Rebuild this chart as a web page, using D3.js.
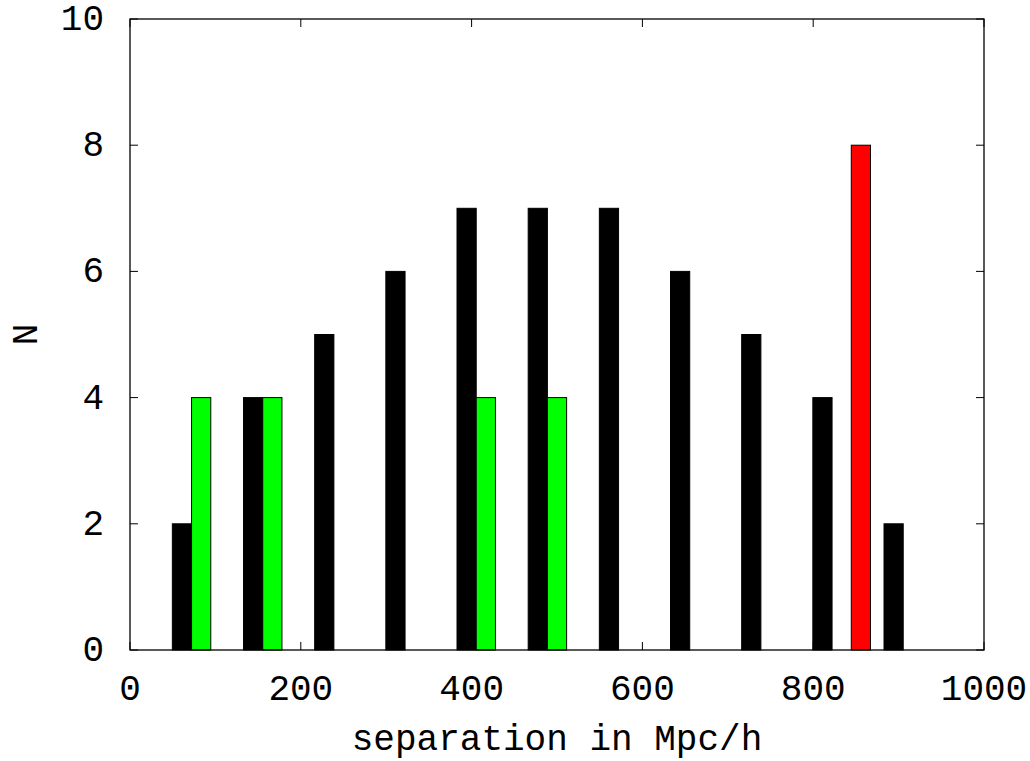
<!DOCTYPE html>
<html>
<head>
<meta charset="utf-8">
<script src="https://cdn.jsdelivr.net/npm/d3@7"></script>
<style>
  body { margin: 0; background: #fff; }
  text { font-family: "Courier New", "Nimbus Mono PS", FreeMono, "Liberation Mono", monospace; }
</style>
</head>
<body>
<svg id="chart" width="1030" height="761"></svg>
<script>
// bin centres (Mpc/h) and counts per series
const binWidth = 1000 / 12
const bins = d3.range(1, 13).map(k => k * binWidth)
const blackCounts = [2, 4, 5, 6, 7, 7, 7, 6, 5, 4, 2, 0]
const greenCounts = [4, 4, 0, 0, 4, 4, 0, 0, 0, 0, 0, 0]
const redCounts   = [0, 0, 0, 0, 0, 0, 0, 0, 0, 8, 0, 0]
const xTicks = [0, 200, 400, 600, 800, 1000]
const yTicks = [0, 2, 4, 6, 8, 10]

const boxWidth = 22.5
const series = [
  {name: "black", values: blackCounts, shift: -boxWidth, fill: "#000000"},
  {name: "green", values: greenCounts, shift: 0, fill: "#00ff00"},
  {name: "red", values: redCounts, shift: boxWidth, fill: "#ff0000"}
]

const svg = d3.select("#chart")
const plotL = 130, plotR = 984, plotT = 19, plotB = 650

const x = d3.scaleLinear().domain([0, 1000]).range([plotL, plotR])
const y = d3.scaleLinear().domain([0, 10]).range([plotB, plotT])

// bars
series.forEach(s => {
  svg.append("g")
    .selectAll("rect")
    .data(s.values.map((v, i) => ({v, c: bins[i] + s.shift})))
    .join("rect")
    .attr("x", d => x(d.c - boxWidth / 2))
    .attr("width", d => x(d.c + boxWidth / 2) - x(d.c - boxWidth / 2))
    .attr("y", d => y(d.v))
    .attr("height", d => y(0) - y(d.v))
    .attr("fill", s.fill)
    .attr("stroke", "#000")
    .attr("stroke-width", 1)
})

// frame
svg.append("rect")
  .attr("x", plotL).attr("y", plotT)
  .attr("width", plotR - plotL).attr("height", plotB - plotT)
  .attr("fill", "none").attr("stroke", "#000").attr("stroke-width", 1.3)

const tickLen = 8

// inward ticks, mirrored
const ax = svg.append("g").attr("stroke", "#000").attr("stroke-width", 1)
xTicks.forEach(t => {
  ax.append("line").attr("x1", x(t)).attr("x2", x(t)).attr("y1", plotB).attr("y2", plotB - tickLen)
  ax.append("line").attr("x1", x(t)).attr("x2", x(t)).attr("y1", plotT).attr("y2", plotT + tickLen)
})
yTicks.forEach(t => {
  ax.append("line").attr("x1", plotL).attr("x2", plotL + tickLen).attr("y1", y(t)).attr("y2", y(t))
  ax.append("line").attr("x1", plotR).attr("x2", plotR - tickLen).attr("y1", y(t)).attr("y2", y(t))
})

const fontSize = 36

svg.append("g").selectAll("text")
  .data(xTicks)
  .join("text")
  .attr("x", d => x(d))
  .attr("y", 700)
  .attr("text-anchor", "middle")
  .style("font-size", fontSize + "px")
  .text(d => d)

svg.append("g").selectAll("text")
  .data(yTicks)
  .join("text")
  .attr("x", 104)
  .attr("y", d => y(d) + 11)
  .attr("text-anchor", "end")
  .style("font-size", fontSize + "px")
  .text(d => d)

svg.append("text")
  .attr("x", (plotL + plotR) / 2)
  .attr("y", 750)
  .attr("text-anchor", "middle")
  .style("font-size", fontSize + "px")
  .text("separation in Mpc/h")

svg.append("text")
  .attr("transform", `translate(37,${(plotT + plotB) / 2}) rotate(-90)`)
  .attr("text-anchor", "middle")
  .style("font-size", fontSize + "px")
  .text("N")
</script>
</body>
</html>
